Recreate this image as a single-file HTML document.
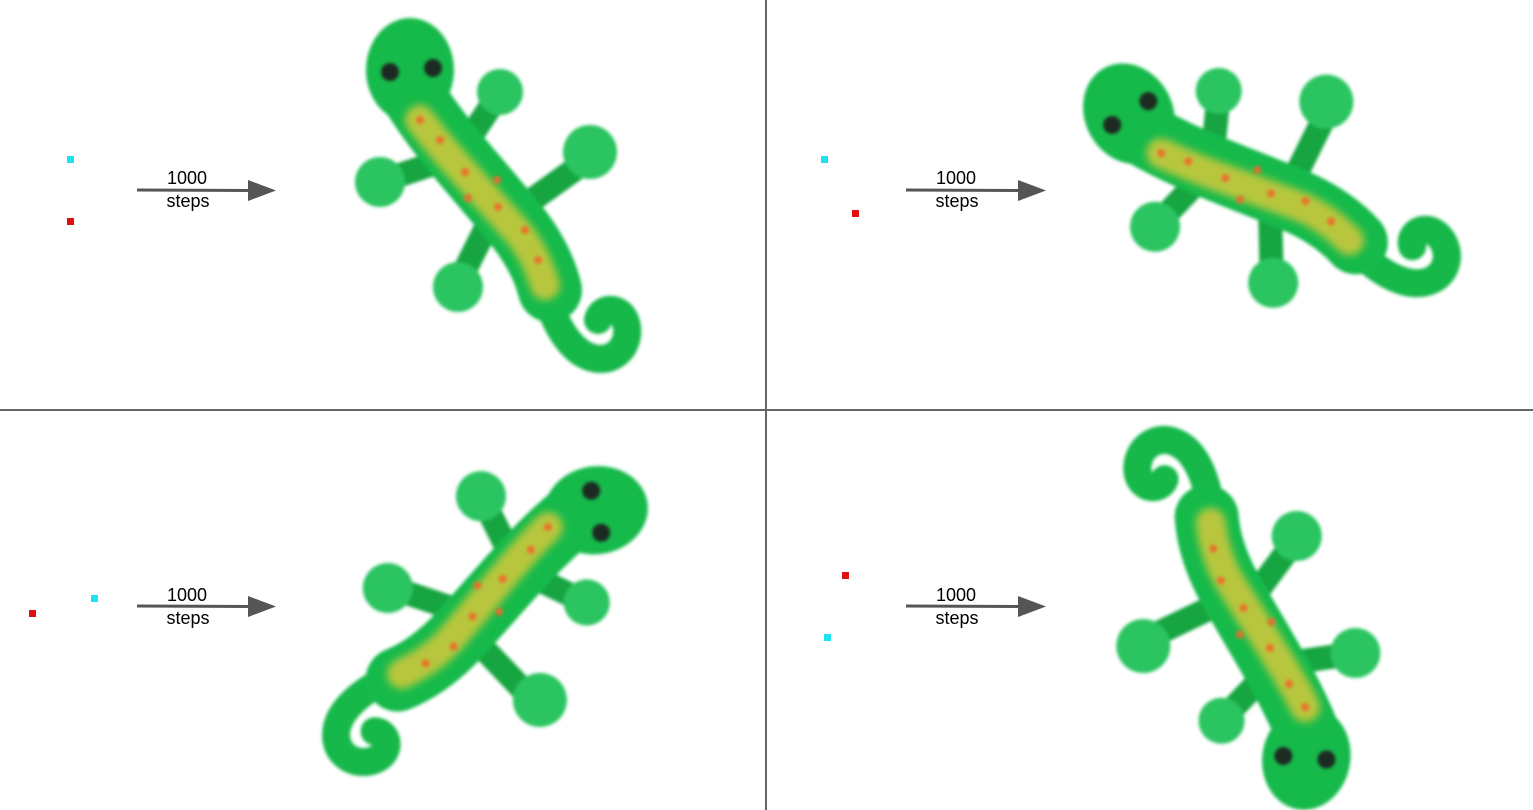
<!DOCTYPE html>
<html><head><meta charset="utf-8"><style>
html,body{margin:0;padding:0;background:#fff;}
svg{display:block;}
text{font-family:"Liberation Sans",Arial,sans-serif;font-size:18px;fill:#000;}
</style></head><body>
<svg width="1533" height="810" viewBox="0 0 1533 810">
<defs>
<filter id="soft" x="-20%" y="-20%" width="140%" height="140%"><feGaussianBlur stdDeviation="1.6"/></filter>
<filter id="soft2" x="-20%" y="-20%" width="140%" height="140%"><feGaussianBlur stdDeviation="4"/></filter>
<g id="lizard">
 <g filter="url(#soft)">
  <g stroke="#13a540" stroke-width="24" stroke-linecap="round" fill="none">
   <path d="M465,145 L495,100"/>
   <path d="M430,165 L385,180"/>
   <path d="M525,205 L585,162"/>
   <path d="M485,230 L460,280"/>
  </g>
  <g fill="#2cc460">
   <circle cx="500" cy="92" r="23"/>
   <circle cx="380" cy="182" r="25"/>
   <circle cx="590" cy="152" r="27"/>
   <circle cx="458" cy="287" r="25"/>
  </g>
  <path d="M520,240 C545,280 550,330 580,352 C610,372 635,345 625,320 C618,305 600,308 598,320" stroke="#12b84a" stroke-width="28" stroke-linecap="round" fill="none"/>
  <path d="M410,90 C440,140 480,180 520,230 C535,250 545,270 550,290" stroke="#14ba4c" stroke-width="64" stroke-linecap="round" fill="none"/>
  <ellipse cx="410" cy="70" rx="44" ry="52" fill="#14ba4c"/>
 </g>
 <path d="M420,120 C450,160 490,200 520,235 C535,255 540,270 545,285" stroke="#b8c63c" stroke-width="30" stroke-linecap="round" fill="none" filter="url(#soft2)"/>
 <g fill="#ee6a2a" opacity="0.9" filter="url(#soft)">
  <circle cx="420" cy="120" r="4"/><circle cx="440" cy="140" r="4"/><circle cx="465" cy="172" r="4"/>
  <circle cx="497" cy="180" r="4"/><circle cx="468" cy="198" r="4"/><circle cx="498" cy="207" r="4"/>
  <circle cx="525" cy="230" r="4"/><circle cx="538" cy="260" r="4"/>
 </g>
 <g fill="#1a2a20" filter="url(#soft)">
  <circle cx="390" cy="72" r="9"/><circle cx="433" cy="68" r="9"/>
 </g>
</g>
</defs>

<line x1="766" y1="0" x2="766" y2="810" stroke="#666" stroke-width="2"/>
<line x1="0" y1="410" x2="1533" y2="410" stroke="#666" stroke-width="2"/>

<g>
 <rect x="67" y="156" width="7" height="7" fill="#1de3f0"/>
 <rect x="67" y="218" width="7" height="7" fill="#e01010"/>
 <g><line x1="137" y1="190" x2="252" y2="190.5" stroke="#555" stroke-width="3"/><polygon points="248,180 276,190.5 248,201" fill="#555"/></g>
 <text x="187" y="184" text-anchor="middle">1000</text>
 <text x="188" y="207" text-anchor="middle">steps</text>
 <use href="#lizard"/>
</g>

<g>
 <rect x="821" y="156" width="7" height="7" fill="#1de3f0"/>
 <rect x="852" y="210" width="7" height="7" fill="#e01010"/>
 <g><line x1="906" y1="190" x2="1022" y2="190.5" stroke="#555" stroke-width="3"/><polygon points="1018,180 1046,190.5 1018,201" fill="#555"/></g>
 <text x="956" y="184" text-anchor="middle">1000</text>
 <text x="957" y="207" text-anchor="middle">steps</text>
 <use href="#lizard" transform="translate(1128,112) rotate(-28) translate(-410,-68)"/>
</g>

<g>
 <rect x="29" y="610" width="7" height="7" fill="#e01010"/>
 <rect x="91" y="595" width="7" height="7" fill="#1de3f0"/>
 <g><line x1="137" y1="606" x2="252" y2="606.5" stroke="#555" stroke-width="3"/><polygon points="248,596 276,606.5 248,617" fill="#555"/></g>
 <text x="187" y="601" text-anchor="middle">1000</text>
 <text x="188" y="624" text-anchor="middle">steps</text>
 <use href="#lizard" transform="translate(598,510) rotate(82) translate(-410,-68)"/>
</g>

<g>
 <rect x="842" y="572" width="7" height="7" fill="#e01010"/>
 <rect x="824" y="634" width="7" height="7" fill="#1de3f0"/>
 <g><line x1="906" y1="606" x2="1022" y2="606.5" stroke="#555" stroke-width="3"/><polygon points="1018,596 1046,606.5 1018,617" fill="#555"/></g>
 <text x="956" y="601" text-anchor="middle">1000</text>
 <text x="957" y="624" text-anchor="middle">steps</text>
 <use href="#lizard" transform="translate(1306,760) rotate(190) translate(-410,-68)"/>
</g>
</svg>
</body></html>
